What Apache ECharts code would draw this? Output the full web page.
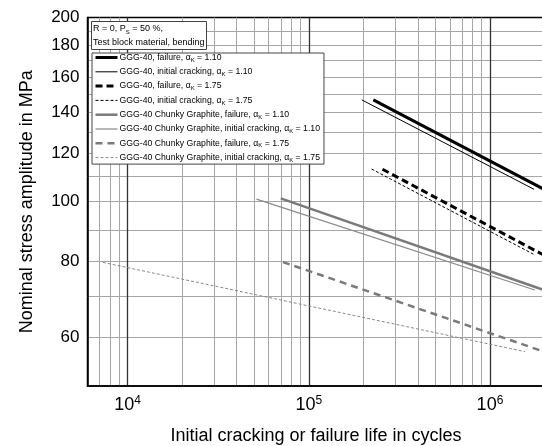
<!DOCTYPE html>
<html>
<head>
<meta charset="utf-8">
<script src="https://cdn.jsdelivr.net/npm/echarts@6/dist/echarts.min.js"></script>
<style>
html,body{margin:0;padding:0;background:#fff;}
#c{width:542px;height:446px;}
</style>
</head>
<body>
<div id="c"></div>
<script>
// ---- data ----
const seriesNames = [
  'GGG-40, failure, αK = 1.10',
  'GGG-40, initial cracking, αK = 1.10',
  'GGG-40, failure, αK = 1.75',
  'GGG-40, initial cracking, αK = 1.75',
  'GGG-40 Chunky Graphite, failure, αK = 1.10',
  'GGG-40 Chunky Graphite, initial cracking, αK = 1.10',
  'GGG-40 Chunky Graphite, failure, αK = 1.75',
  'GGG-40 Chunky Graphite, initial cracking, αK = 1.75'
];
const startCycles = [2.27e5, 1.96e5, 2.55e5, 2.22e5, 7.0e4, 5.14e4, 7.2e4, 7.3e3];
const startStress = [146.7, 146.7, 113.0, 113.1, 101.3, 101.0, 79.7, 79.6];
const endCycles   = [2.0e6, 1.75e6, 2.0e6, 1.735e6, 2.0e6, 1.77e6, 2.0e6, 1.56e6];
const endStress   = [104.7, 104.8, 81.7, 82.1, 71.7, 71.75, 56.85, 56.9];

const xGridValues = [7e3, 8e3, 9e3, 2e4, 3e4, 4e4, 5e4, 6e4, 7e4, 8e4, 9e4,
  2e5, 3e5, 4e5, 5e5, 6e5, 7e5, 8e5, 9e5];
const xDecadeValues = [1e4, 1e5, 1e6];
const yGridValues = [60, 70, 80, 90, 100, 110, 120, 130, 140, 150, 160, 170, 180, 190];
const yLabelValues = [60, 80, 100, 120, 140, 160, 180, 200];

// ---- styles ----
const styles = [
  {color: '#000', width: 3, type: 'solid'},
  {color: '#000', width: 1, type: 'solid'},
  {color: '#000', width: 3, type: [7, 4]},
  {color: '#000', width: 1, type: [3, 2]},
  {color: '#7a7a7a', width: 2.5, type: 'solid'},
  {color: '#8a8a8a', width: 1.2, type: 'solid'},
  {color: '#7a7a7a', width: 2.5, type: [7, 5]},
  {color: '#8a8a8a', width: 1, type: [3, 2]}
];

const FONT = 'Liberation Sans, Arial, sans-serif';

const series = seriesNames.map((name, i) => ({
  name: name,
  type: 'line',
  xAxisIndex: 0,
  yAxisIndex: 0,
  symbol: 'none',
  silent: true,
  animation: false,
  lineStyle: styles[i],
  itemStyle: {color: styles[i].color},
  z: 10 - i,
  data: [[startCycles[i], startStress[i]], [endCycles[i], endStress[i]]]
}));

const legendData = seriesNames.map((name, i) => ({
  name: name,
  lineStyle: {width: styles[i].width, type: styles[i].type, color: styles[i].color}
}));

const chart = echarts.init(document.getElementById('c'), null, {renderer: 'canvas'});
chart.setOption({
  animation: false,
  backgroundColor: '#fff',
  textStyle: {fontFamily: FONT},
  grid: {
    left: 87.5, top: 17.5, width: 457, height: 368.5,
    outerBoundsMode: 'none', containLabel: false,
    show: true, borderColor: '#000', borderWidth: 1.5, backgroundColor: 'transparent'
  },
  title: {
    left: 91, top: 21,
    text: 'R = 0, P{s|S} = 50 %,\nTest block material, bending',
    backgroundColor: '#fff',
    borderColor: '#444', borderWidth: 1,
    padding: [1, 2, 1, 2],
    textStyle: {
      fontFamily: FONT, fontSize: 9, fontWeight: 'normal', color: '#000', lineHeight: 13.5,
      rich: {
        s: {fontFamily: FONT, fontSize: 6, verticalAlign: 'bottom', padding: [4, 0, 0, 0], lineHeight: 13.5}
      }
    }
  },
  legend: {
    orient: 'vertical',
    left: 92, top: 53,
    selectedMode: false,
    backgroundColor: '#fff',
    borderColor: '#444', borderWidth: 1,
    padding: [0, 4, 1, 2],
    itemWidth: 22, itemHeight: 10, itemGap: 4.3,
    itemStyle: {color: 'rgba(0,0,0,0)', borderWidth: 0, opacity: 0},
    data: legendData,
    formatter: function (name) {
      return name.replace('αK', '{a|α}{k|K}');
    },
    textStyle: {
      fontFamily: FONT, fontSize: 8.7, color: '#000',
      padding: [0, 0, 0, -3],
      rich: {
        a: {fontFamily: FONT, fontSize: 8.7, color: '#000'},
        k: {fontFamily: FONT, fontSize: 6, color: '#000', verticalAlign: 'bottom', padding: [5, 0, 0, 0]}
      }
    }
  },
  xAxis: [{
    type: 'log', logBase: 10, min: 6000, max: 2e6,
    position: 'bottom',
    name: 'Initial cracking or failure life in cycles',
    nameLocation: 'middle', nameGap: 41,
    nameTextStyle: {fontFamily: FONT, fontSize: 18, color: '#000'},
    axisLine: {show: true, lineStyle: {color: '#000', width: 1.5}},
    axisTick: {show: false, customValues: xGridValues},
    axisLabel: {
      show: true, customValues: xDecadeValues, margin: 9,
      formatter: function (v) {
        return '{b|10}{s|' + Math.round(Math.log10(v)) + '}';
      },
      rich: {
        b: {fontFamily: FONT, fontSize: 18, color: '#000'},
        s: {fontFamily: FONT, fontSize: 12, color: '#000', padding: [0, 0, 9, 0]}
      }
    },
    splitLine: {show: true, lineStyle: {color: '#a6a6a6', width: 1}}
  }, {
    type: 'log', logBase: 10, min: 6000, max: 2e6,
    position: 'bottom',
    axisLine: {show: false},
    axisTick: {show: false, customValues: xDecadeValues},
    axisLabel: {show: false, customValues: xDecadeValues},
    splitLine: {show: true, lineStyle: {color: '#333', width: 1.3}}
  }],
  yAxis: {
    type: 'log', logBase: 10, min: 50, max: 200,
    name: 'Nominal stress amplitude in MPa',
    nameLocation: 'middle', nameGap: 51, nameRotate: 90,
    nameTextStyle: {fontFamily: FONT, fontSize: 18, color: '#000'},
    axisLine: {show: true, lineStyle: {color: '#000', width: 1.5}},
    axisTick: {show: false, customValues: yGridValues},
    axisLabel: {
      show: true, customValues: yLabelValues, margin: 8,
      fontFamily: FONT, fontSize: 17, color: '#000'
    },
    splitLine: {show: true, lineStyle: {color: '#a6a6a6', width: 1}}
  },
  series: series
});
</script>
</body>
</html>
